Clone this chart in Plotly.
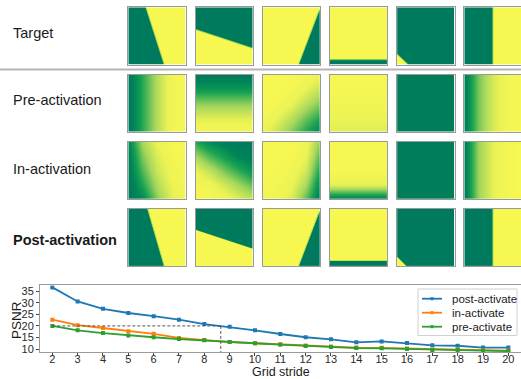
import numpy as np
import plotly.graph_objects as go

# ---------------- data ----------------
strides = list(range(2, 21))
post_activate = [36.7, 30.6, 27.4, 25.6, 24.2, 22.7, 20.8, 19.6, 18.1, 16.5,
                 15.1, 14.2, 12.9, 13.3, 12.6, 11.6, 11.4, 10.6, 10.6]
in_activate = [22.7, 20.3, 19.1, 17.7, 16.6, 14.8, 13.9, 13.0, 12.5, 12.0,
               11.5, 11.1, 10.6, 10.5, 10.2, 9.8, 9.8, 9.5, 9.3]
pre_activate = [20.0, 18.1, 16.9, 15.9, 15.1, 14.3, 13.8, 13.0, 12.5, 11.9,
                11.3, 10.9, 10.4, 10.3, 10.0, 9.6, 9.6, 9.3, 9.1]
series_names = ["post-activate", "in-activate", "pre-activate"]
series_colors = ["#1f77b4", "#ff7f0e", "#2ca02c"]
y_ticks = [10, 15, 20, 25, 30, 35]
threshold_psnr = 20
crossing_stride = 8.65

row_labels = ["Target", "Pre-activation", "In-activation", "<b>Post-activation</b>"]

# Target / post-activation tiles: boundary line (p1, p2 in tile units, y down) and yellow side sign
target_edges = [((0.30, 0.0), (0.62, 1.0), -1),
                ((0.0, 0.38), (1.0, 0.71), 1),
                ((1.0, 0.0), (0.62, 1.0), 1),
                ((0.0, 0.91), (1.0, 0.91), -1),
                ((0.0, 0.82), (0.19, 1.0), 1),
                ((0.50, 0.0), (0.50, 1.0), -1)]
post_edges = [((0.33, 0.0), (0.62, 1.0), -1),
              ((0.0, 0.36), (1.0, 0.69), 1),
              ((1.0, 0.0), (0.62, 1.0), 1),
              ((0.0, 0.90), (1.0, 0.90), -1),
              ((0.0, 0.84), (0.16, 1.0), 1),
              ((0.50, 0.0), (0.50, 1.0), -1)]

# Pre-/in-activation tiles: 5x5 value grids (rows top -> bottom), 0 = dark green, 1 = yellow
pre_grids = [
    [[0.0, 0.33, 0.66, 0.92, 1.0]] * 5,
    [[0.0] * 5, [0.22] * 5, [0.55] * 5, [0.80] * 5, [0.95] * 5],
    [[1.0, 1.0, 1.0, 0.95, 0.88],
     [1.0, 1.0, 0.95, 0.85, 0.72],
     [1.0, 0.95, 0.85, 0.68, 0.52],
     [0.95, 0.85, 0.68, 0.48, 0.32],
     [0.88, 0.72, 0.52, 0.32, 0.12]],
    [[1.0] * 5, [0.97] * 5, [0.92] * 5, [0.86] * 5, [0.80] * 5],
    [[0.03] * 5] * 5,
    [[0.05, 0.50, 0.76, 0.93, 1.0]] * 5,
]
in_grids = [
    [[0.12, 0.62, 0.86, 0.96, 1.0],
     [0.06, 0.52, 0.80, 0.93, 1.0],
     [0.02, 0.42, 0.74, 0.90, 0.97],
     [0.0, 0.30, 0.65, 0.85, 0.95],
     [0.0, 0.15, 0.55, 0.80, 0.92]],
    [[0.30, 0.15, 0.05, 0.0, 0.0],
     [0.60, 0.40, 0.25, 0.10, 0.05],
     [0.85, 0.70, 0.50, 0.35, 0.20],
     [0.95, 0.90, 0.75, 0.60, 0.45],
     [1.0, 0.97, 0.90, 0.80, 0.70]],
    [[1.0, 1.0, 1.0, 0.92, 0.55],
     [1.0, 1.0, 0.97, 0.86, 0.42],
     [1.0, 0.97, 0.92, 0.76, 0.28],
     [0.97, 0.94, 0.86, 0.62, 0.14],
     [0.95, 0.90, 0.78, 0.45, 0.04]],
    [[1.0] * 5, [1.0] * 5, [0.98] * 5, [0.82] * 5, [0.08] * 5],
    [[0.03] * 5] * 5,
    [[0.04, 0.58, 0.82, 0.96, 1.0]] * 5,
]

TILE_SCALE = [[0.0, "rgb(0,122,92)"], [0.12, "rgb(0,133,88)"], [0.3, "rgb(25,163,82)"],
              [0.6, "rgb(165,215,92)"], [0.85, "rgb(236,243,84)"], [1.0, "rgb(247,247,82)"]]

W, H = 521, 379
FONT = "Liberation Sans, Arial, sans-serif"
TILE_PX = 57.4


def px(x):
    return x / W


def py(y):
    return 1 - y / H


def edge_tile(edge, n=115):
    (x1, y1), (x2, y2), sign = edge
    g = np.linspace(0, 1, n)
    X, Y = np.meshgrid(g, g)
    cross = (x2 - x1) * (Y - y1) - (y2 - y1) * (X - x1)
    dist = cross / np.hypot(x2 - x1, y2 - y1)
    z = np.clip(0.5 + sign * dist * TILE_PX / 1.2, 0, 1)
    return z, g


fig = go.Figure()

# ---------------- tiles ----------------
col_x0 = [128.3 + 67.2 * i for i in range(6)]
row_y0 = [7.3 + 67.2 * j for j in range(4)]

rows = []
rows.append([edge_tile(e) for e in target_edges])
rows.append([(np.array(g), np.linspace(0, 1, 5)) for g in pre_grids])
rows.append([(np.array(g), np.linspace(0, 1, 5)) for g in in_grids])
rows.append([edge_tile(e) for e in post_edges])

k = 2
for r in range(4):
    for c in range(6):
        z, g = rows[r][c]
        fig.add_trace(go.Heatmap(z=z, x=g, y=g, zmin=0, zmax=1, colorscale=TILE_SCALE,
                                 zsmooth="best", showscale=False, hoverinfo="skip",
                                 showlegend=False, xaxis=f"x{k}", yaxis=f"y{k}"))
        ax = dict(showgrid=False, zeroline=False, showticklabels=False, ticks="",
                  showline=True, mirror=True, linecolor="#9a9a9a", linewidth=1, fixedrange=True)
        fig.layout[f"xaxis{k}"] = dict(ax, domain=[px(col_x0[c]), min(1.0, px(col_x0[c] + TILE_PX))],
                                       range=[0, 1], anchor=f"y{k}")
        fig.layout[f"yaxis{k}"] = dict(ax, domain=[py(row_y0[r] + TILE_PX), py(row_y0[r])],
                                       range=[1, 0], anchor=f"x{k}")
        k += 1

# row labels
label_y = [33, 100, 169, 240]
for lab, yy in zip(row_labels, label_y):
    fig.add_annotation(text=lab, x=px(11), y=py(yy), xref="paper", yref="paper",
                       xanchor="left", yanchor="middle", showarrow=False,
                       font=dict(size=14.5, family=FONT, color="#1a1a1a"))

# separator
fig.add_shape(type="line", xref="paper", yref="paper", x0=0, x1=1,
              y0=py(69.5), y1=py(69.5), line=dict(color="#b4b4b4", width=2))

# ---------------- line chart ----------------
for name, vals, col in zip(series_names, [post_activate, in_activate, pre_activate], series_colors):
    fig.add_trace(go.Scatter(x=strides, y=vals, name=name, mode="lines+markers",
                             line=dict(color=col, width=1.8),
                             marker=dict(color=col, size=4, symbol="square"),
                             showlegend=False, xaxis="x", yaxis="y"))

y_range = [8.7, 37.6]
fig.add_shape(type="line", xref="x", yref="y", x0=strides[0], x1=crossing_stride,
              y0=threshold_psnr, y1=threshold_psnr, line=dict(color="#555", width=1, dash="3px,2px"))
fig.add_shape(type="line", xref="x", yref="y", x0=crossing_stride, x1=crossing_stride,
              y0=threshold_psnr, y1=y_range[0], line=dict(color="#555", width=1, dash="3px,2px"))

fig.update_layout(
    xaxis=dict(domain=[px(40), 1.0], range=[1.514, 20.5], tickvals=strides,
               ticktext=[str(s) for s in strides], ticks="outside", ticklen=3,
               tickcolor="#444", showline=True, mirror=True, linecolor="#9a9a9a",
               showgrid=False, zeroline=False, automargin=False, anchor="y",
               ticklabelstandoff=-6,
               tickfont=dict(size=11, family=FONT, color="#2a2a2a")),
    yaxis=dict(domain=[py(352), py(285.3)], range=y_range, tickvals=y_ticks,
               ticks="outside", ticklen=3, tickcolor="#444", showline=True,
               linecolor="#9a9a9a", showgrid=False, zeroline=False, automargin=False,
               anchor="x", tickfont=dict(size=11, family=FONT, color="#2a2a2a")),
)
fig.add_annotation(text="PSNR", x=px(16), y=py(320), xref="paper", yref="paper",
                   textangle=-90, showarrow=False, xanchor="center", yanchor="middle",
                   font=dict(size=13.5, family=FONT, color="#1a1a1a"))
fig.add_annotation(text="Grid stride", x=px(280.5), y=py(371.5), xref="paper", yref="paper",
                   showarrow=False, xanchor="center", yanchor="middle", borderpad=0,
                   font=dict(size=12.5, family=FONT, color="#1a1a1a"))

# legend (matplotlib-style compact box)
fig.add_shape(type="rect", xref="paper", yref="paper", x0=px(418), x1=px(517),
              y0=py(335.5), y1=py(289), line=dict(color="#d0d0d0", width=1),
              fillcolor="rgba(255,255,255,0.85)")
legend_y = [298.7, 312.7, 326.7]
for name, col, ly in zip(series_names, series_colors, legend_y):
    fig.add_shape(type="line", xref="paper", yref="paper", x0=px(422), x1=px(442),
                  y0=py(ly), y1=py(ly), line=dict(color=col, width=1.8))
    fig.add_shape(type="rect", xref="paper", yref="paper", x0=px(430.5), x1=px(433.5),
                  y0=py(ly + 1.5), y1=py(ly - 1.5), line=dict(width=0), fillcolor=col)
    fig.add_annotation(text=name, x=px(450), y=py(ly), xref="paper", yref="paper",
                       xanchor="left", yanchor="middle", showarrow=False,
                       font=dict(size=11.5, family=FONT, color="#1a1a1a"))

fig.update_layout(
    width=W, height=H, margin=dict(l=0, r=0, t=0, b=0),
    paper_bgcolor="white", plot_bgcolor="white",
    showlegend=False,
)

fig.write_html("out.html", config={"displayModeBar": False},
               post_script="document.body.style.margin='0px';")
